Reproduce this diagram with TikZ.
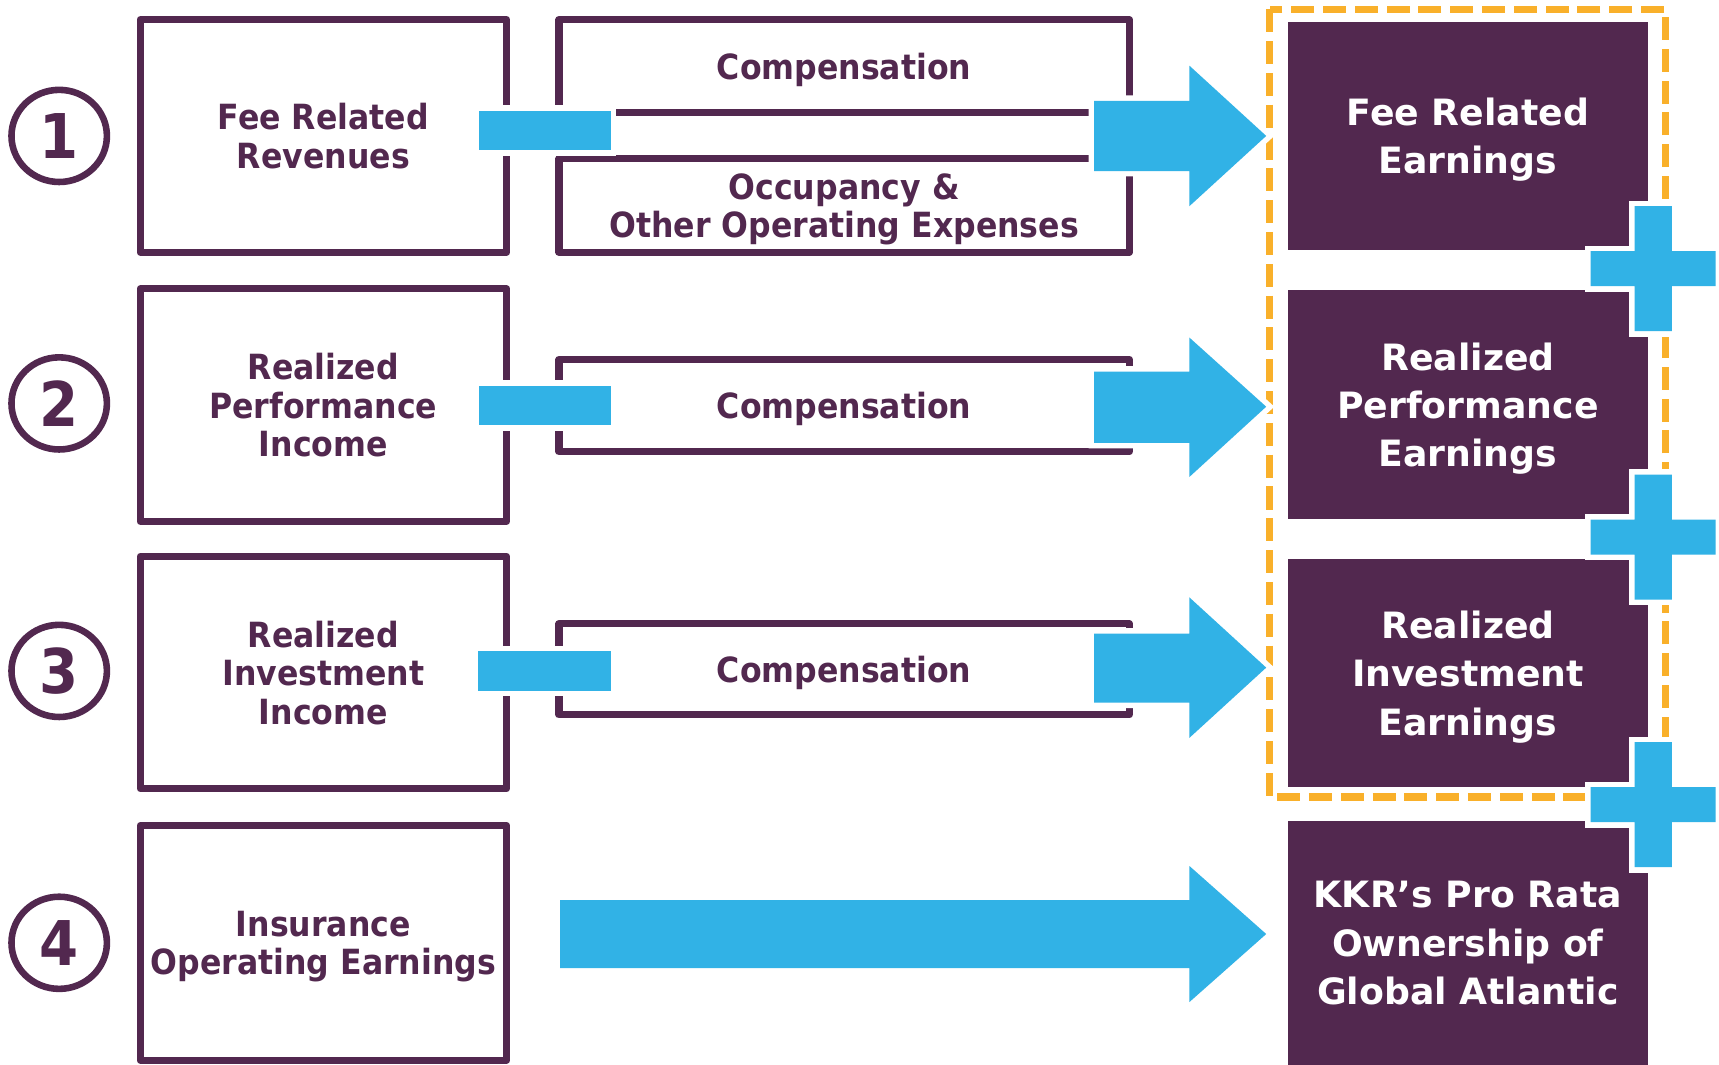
\documentclass[tikz,border=0pt]{standalone}
\usepackage{fontspec}
\setmainfont{DejaVu Sans}
\newfontfamily\narrowsans{DejaVu Sans}[FakeStretch=0.91]
\usetikzlibrary{shapes.geometric}

\begin{document}
\begin{tikzpicture}[x=0.01cm,y=-0.01cm,
  inbox/.style={draw=kPurp,line width=0.065cm,line join=round,text=kPurp,
    inner sep=0pt,text depth=0pt,align=center,
    font=\narrowsans\bfseries\fontsize{9}{10}\selectfont},
  leftbox/.style={inbox,minimum width=3.34cm,minimum height=2.12cm},
  costbox/.style={inbox,minimum width=5.2cm,minimum height=0.84cm},
  outbox/.style={fill=kPurp,text=white,inner sep=0pt,text depth=0pt,align=center,
    minimum width=3.28cm,minimum height=2.08cm,
    font=\bfseries\fontsize{9.4}{12.5}\selectfont},
  numring/.style={ellipse,draw=kPurp,line width=0.06cm,text=kPurp,inner sep=0pt,
    minimum width=0.87cm,minimum height=0.84cm,
    font=\narrowsans\bfseries\fontsize{16}{16}\selectfont},
  halo/.style={fill=kBlue,preaction={draw=white,line width=0.1cm}}]
  \definecolor{kPurp}{RGB}{82,40,79}
  \definecolor{kBlue}{RGB}{49,178,230}
  \definecolor{kGold}{RGB}{249,176,42}

  \useasboundingbox (0,0) rectangle (1568,971);

  % numbers
  \node[numring] (n1) at (54,124) {1};
  \node[numring] (n2) at (54,368) {2};
  \node[numring] (n3) at (54,612) {3};
  \node[numring] (n4) at (54,860) {4};

  % income boxes
  \node[leftbox] (fre) at (295,124) {Fee Related\\Revenues};
  \node[leftbox] (rpi) at (295,369.5) {Realized\\Performance\\Income};
  \node[leftbox] (rii) at (295,613.5) {Realized\\Investment\\Income};
  \node[leftbox,minimum height=2.14cm] (ioe) at (295,860) {Insurance\\Operating Earnings};

  % expense boxes
  \node[costbox,minimum height=0.85cm] (comp1) at (770,60.5) {Compensation};
  \node[costbox,minimum height=0.85cm] (occ) at (770,187.5) {Occupancy \&\\Other Operating Expenses};
  \node[costbox] (comp2) at (770,370) {Compensation};
  \node[costbox,minimum height=0.83cm] (comp3) at (770,610.5) {Compensation};

  % minus bars
  \fill[halo] (437,101) rectangle (557,137);
  \fill[halo] (437,352) rectangle (557,388);
  \fill[halo] (436,594) rectangle (557,630);

  % dashed frame round the three earnings
  \draw[kGold,line width=0.065cm,dash pattern=on 0.21cm off 0.08cm]
    (1158,8.5) rectangle (1519,727);

  % block arrows
  \fill[halo] (998,92) -- (1085,92) -- (1085,60) -- (1155,124) -- (1085,188) -- (1085,156) -- (998,156) -- cycle;
  \fill[halo] (998,339) -- (1085,339) -- (1085,308) -- (1155,371) -- (1085,435) -- (1085,404) -- (998,404) -- cycle;
  \fill[halo] (998,578) -- (1085,578) -- (1085,545) -- (1155,609) -- (1085,673) -- (1085,641) -- (998,641) -- cycle;
  \fill[halo] (511,821) -- (1085,821) -- (1085,790) -- (1155,852) -- (1085,914) -- (1085,883) -- (511,883) -- cycle;

  % earnings boxes
  \node[outbox] (fre2) at (1339,124) {Fee Related\\Earnings};
  \node[outbox] (rpe) at (1339,369) {Realized\\Performance\\Earnings};
  \node[outbox] (rie) at (1339,614) {Realized\\Investment\\Earnings};
  \node[outbox,minimum height=2.22cm] (ga) at (1339,860) {KKR’s Pro Rata\\Ownership of\\Global Atlantic};

  % plus signs
  \fill[halo,shift={(1508,245)}] (-17,-57) -- (17,-57) -- (17,-16) -- (57,-16) -- (57,16) -- (17,16)
    -- (17,57) -- (-17,57) -- (-17,16) -- (-57,16) -- (-57,-16) -- (-17,-16) -- cycle;
  \fill[halo,shift={(1508,490)}] (-17,-57) -- (17,-57) -- (17,-16) -- (57,-16) -- (57,16) -- (17,16)
    -- (17,57) -- (-17,57) -- (-17,16) -- (-57,16) -- (-57,-16) -- (-17,-16) -- cycle;
  \fill[halo,shift={(1508,734)}] (-17,-57) -- (17,-57) -- (17,-16) -- (57,-16) -- (57,16) -- (17,16)
    -- (17,57) -- (-17,57) -- (-17,16) -- (-57,16) -- (-57,-16) -- (-17,-16) -- cycle;
\end{tikzpicture}
\end{document}
